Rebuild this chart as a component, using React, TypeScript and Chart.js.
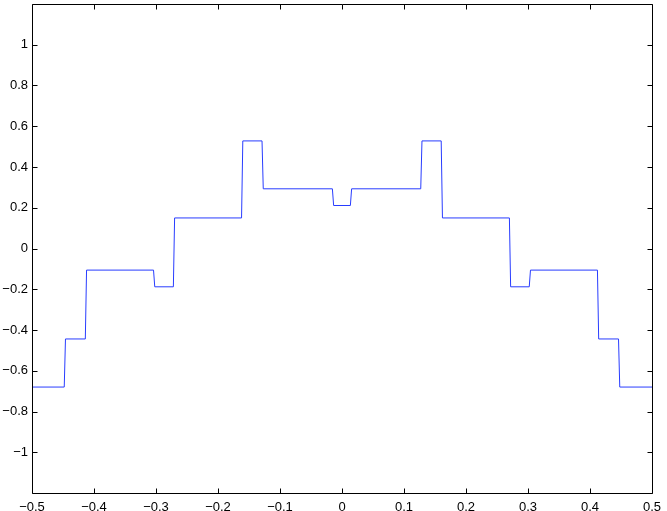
import React, { useEffect, useRef } from "react";
import { Chart, registerables } from "chart.js";

Chart.register(...registerables);

// Polyline vertices of the step curve
const xPoints = [
  -0.5, -0.448, -0.446, -0.414, -0.412, -0.304, -0.302, -0.272, -0.27, -0.162,
  -0.16, -0.129, -0.127, -0.0155, -0.0135, 0.0135, 0.0155, 0.127, 0.129, 0.16,
  0.162, 0.27, 0.272, 0.302, 0.304, 0.412, 0.414, 0.446, 0.448, 0.5,
];
const yPoints = [
  -0.68, -0.68, -0.444, -0.444, -0.106, -0.106, -0.188, -0.188, 0.15, 0.15,
  0.528, 0.528, 0.293, 0.293, 0.211, 0.211, 0.293, 0.293, 0.528, 0.528,
  0.15, 0.15, -0.188, -0.188, -0.106, -0.106, -0.444, -0.444, -0.68, -0.68,
];

const xTickValues = [-0.5, -0.4, -0.3, -0.2, -0.1, 0, 0.1, 0.2, 0.3, 0.4, 0.5];
const yTickValues = [-1, -0.8, -0.6, -0.4, -0.2, 0, 0.2, 0.4, 0.6, 0.8, 1];

const X_MIN = -0.5;
const X_MAX = 0.5;
const Y_MIN = -1.2;
const Y_MAX = 1.2;

function fmt(v: number): string {
  const r = Math.round(v * 10) / 10;
  if (r === 0) return "0";
  const s = Math.abs(r).toString();
  return r < 0 ? "\u2212" + s : s;
}

const framePlugin = {
  id: "matlabFrame",
  afterDraw(chart: any) {
    const { ctx, chartArea, scales } = chart;
    const { left, top, right, bottom } = chartArea;
    const xs = scales.x;
    const ys = scales.y;
    const len = 5;
    ctx.save();
    ctx.strokeStyle = "#000";
    ctx.lineWidth = 1;
    ctx.beginPath();
    ctx.rect(left + 0.5, top + 0.5, right - left, bottom - top);
    for (const v of xTickValues) {
      const px = Math.round(xs.getPixelForValue(v)) + 0.5;
      ctx.moveTo(px, bottom + 0.5);
      ctx.lineTo(px, bottom + 0.5 - len);
      ctx.moveTo(px, top + 0.5);
      ctx.lineTo(px, top + 0.5 + len);
    }
    for (const v of yTickValues) {
      const py = Math.round(ys.getPixelForValue(v)) + 0.5;
      ctx.moveTo(left + 0.5, py);
      ctx.lineTo(left + 0.5 + len, py);
      ctx.moveTo(right + 0.5, py);
      ctx.lineTo(right + 0.5 - len, py);
    }
    ctx.stroke();
    ctx.restore();
  },
};

export default function App() {
  const canvasRef = useRef<HTMLCanvasElement | null>(null);

  useEffect(() => {
    if (!canvasRef.current) return;
    const data = xPoints.map((x, i) => ({ x, y: yPoints[i] }));
    const font = { family: "'Liberation Sans', Arial, Helvetica, sans-serif", size: 13 };
    const chart = new Chart(canvasRef.current, {
      type: "line",
      data: {
        datasets: [
          {
            data,
            borderColor: "rgb(40,60,255)",
            borderWidth: 1,
            pointRadius: 0,
            tension: 0,
            fill: false,
          },
        ],
      },
      options: {
        animation: false,
        responsive: false,
        devicePixelRatio: 1,
        layout: { padding: { left: 0, top: 4, right: 15, bottom: 0 } },
        plugins: { legend: { display: false }, tooltip: { enabled: false } },
        scales: {
          x: {
            type: "linear",
            min: X_MIN,
            max: X_MAX,
            grid: { display: false, drawTicks: false },
            border: { display: false },
            afterBuildTicks: (scale: any) => {
              scale.ticks = xTickValues.map((v) => ({ value: v }));
            },
            afterFit: (scale: any) => {
              scale.height = 18;
              scale.paddingLeft = 0;
              scale.paddingRight = 0;
            },
            ticks: {
              autoSkip: false,
              maxRotation: 0,
              minRotation: 0,
              padding: 7,
              color: "#000",
              font,
              callback: (v: any) => fmt(Number(v)),
            },
          },
          y: {
            type: "linear",
            min: Y_MIN,
            max: Y_MAX,
            grid: { display: false, drawTicks: false },
            border: { display: false },
            afterBuildTicks: (scale: any) => {
              scale.ticks = yTickValues.map((v) => ({ value: v }));
            },
            afterFit: (scale: any) => {
              scale.width = 32;
              scale.paddingTop = 0;
              scale.paddingBottom = 0;
            },
            ticks: {
              autoSkip: false,
              padding: 4,
              color: "#000",
              font,
              callback: (v: any) => fmt(Number(v)),
            },
          },
        },
      },
      plugins: [framePlugin],
    });
    return () => chart.destroy();
  }, []);

  return (
    <div style={{ position: "absolute", left: 0, top: 0, width: 667, height: 511, background: "#fff" }}>
      <canvas ref={canvasRef} width={667} height={511} />
    </div>
  );
}
